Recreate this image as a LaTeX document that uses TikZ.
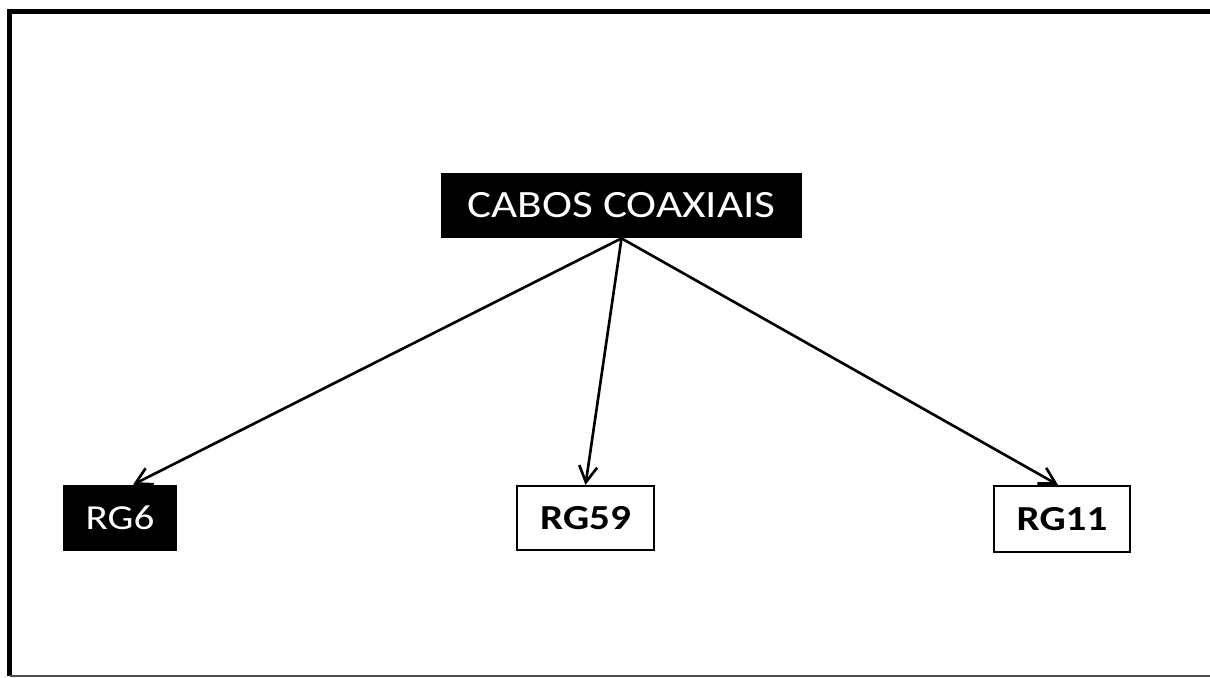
\documentclass[tikz,border=0pt]{standalone}
\usepackage{fontspec}
\setmainfont{Carlito}[FakeStretch=1.17]
\usetikzlibrary{arrows.meta}
\tikzset{
  darkbox/.style={fill=black, text=white, inner sep=0pt, font=\fontsize{20}{24}\selectfont},
  lightbox/.style={draw=black, line width=1.3pt, fill=white, inner sep=0pt, font=\fontsize{20}{24}\selectfont\bfseries},
  link/.style={-{Straight Barb[length=3.2mm,width=3.6mm]}, line width=1.5pt}
}
\begin{document}
\begin{tikzpicture}[x=0.02cm,y=-0.02cm]
\useasboundingbox[fill=white] (0,0) rectangle (1210,677);
% frame
\draw[line width=2.8pt] (1210,11.5) -- (9.5,11.5) -- (9.5,676);
\draw[line width=1pt, black!70] (9.5,676) -- (1210,676);
% boxes
\node[darkbox, minimum width=7.22cm, minimum height=1.3cm, font=\fontsize{22}{26}\selectfont] (cabos) at (621.5,205.5) {CABOS COAXIAIS};
\node[darkbox, minimum width=2.28cm, minimum height=1.32cm] (rg6) at (120,518) {RG6};
\node[lightbox, minimum width=2.74cm, minimum height=1.28cm] (rg59) at (585.5,518) {RG59};
\node[lightbox, minimum width=2.72cm, minimum height=1.32cm] (rg11) at (1062,519) {RG11};
% arrows
\draw[link] (cabos.south) -- ([xshift=0.26cm]rg6.north);
\draw[link] (cabos.south) -- (rg59.north);
\draw[link] (cabos.south) -- ([xshift=-0.08cm]rg11.north);
\end{tikzpicture}
\end{document}
